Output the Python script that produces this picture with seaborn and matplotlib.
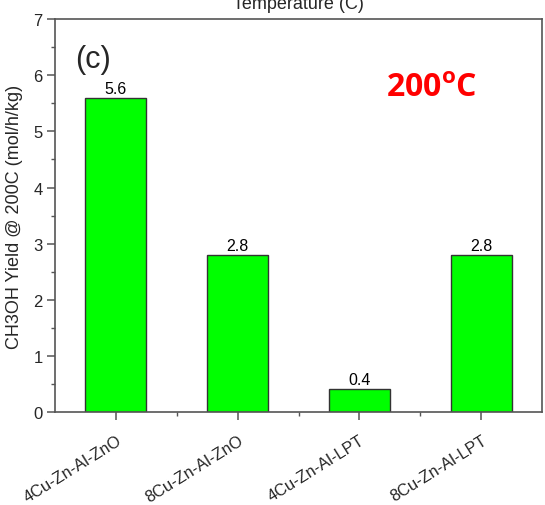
import matplotlib
matplotlib.use("Agg")
import matplotlib.pyplot as plt
import seaborn as sns
import pandas as pd

catalysts = ["4Cu-Zn-Al-ZnO", "8Cu-Zn-Al-ZnO", "4Cu-Zn-Al-LPT", "8Cu-Zn-Al-LPT"]
yields = [5.6, 2.8, 0.4, 2.8]
y_ticks = [0, 1, 2, 3, 4, 5, 6, 7]

sns.set_theme(style="ticks")
plt.rcParams["font.family"] = ["Liberation Sans", "DejaVu Sans"]

df = pd.DataFrame({"catalyst": catalysts, "yield": yields})

fig = plt.figure(figsize=(5.45, 5.06), dpi=100)
ax = fig.add_axes([0.101, 0.184, 0.8935, 0.776])

sns.barplot(data=df, x="catalyst", y="yield", ax=ax, color="#00ff00",
            saturation=1, width=0.5, edgecolor="#333333", linewidth=1.0)

for p, v in zip(ax.patches, yields):
    ax.annotate(f"{v:.1f}", (p.get_x() + p.get_width() / 2, p.get_height()),
                xytext=(0, 1.5), textcoords="offset points",
                ha="center", va="bottom", fontsize=11.5, color="black")

ax.set_xlim(-0.5, 3.5)
ax.set_ylim(0, 7)
ax.set_yticks(y_ticks)
ax.set_yticks([0.5 + i for i in range(7)], minor=True)
ax.set_xticks([0.5, 1.5, 2.5], minor=True)

ax.set_xlabel("")
ax.set_ylabel("CH3OH Yield @ 200C (mol/h/kg)", fontsize=13, labelpad=7)
ax.set_title("Temperature (C)", fontsize=13, pad=8)

for s in ax.spines.values():
    s.set_color("#555555")
    s.set_linewidth(1.2)

ax.tick_params(axis="y", which="major", direction="out", length=6, width=1.1,
               color="#555555", labelsize=12, pad=3)
ax.tick_params(axis="y", which="minor", direction="out", length=3, width=1.0,
               color="#555555")
ax.tick_params(axis="x", which="major", direction="out", length=6, width=1.1,
               color="#555555", labelsize=11.8, pad=9)
ax.tick_params(axis="x", which="minor", direction="out", length=3, width=1.0,
               color="#555555")

for lbl in ax.get_xticklabels():
    lbl.set_rotation(32)
    lbl.set_ha("right")
    lbl.set_rotation_mode("anchor")

ax.text(0.042, 0.90, "(c)", transform=ax.transAxes, fontsize=22,
        ha="left", va="center")
ax.text(0.68, 0.825, r"200$^{\mathregular{o}}$C", transform=ax.transAxes,
        fontsize=23, color="red", fontweight="bold", family=["Open Sans", "DejaVu Sans"],
        ha="left", va="center")

fig.savefig("out.png", dpi=100)
